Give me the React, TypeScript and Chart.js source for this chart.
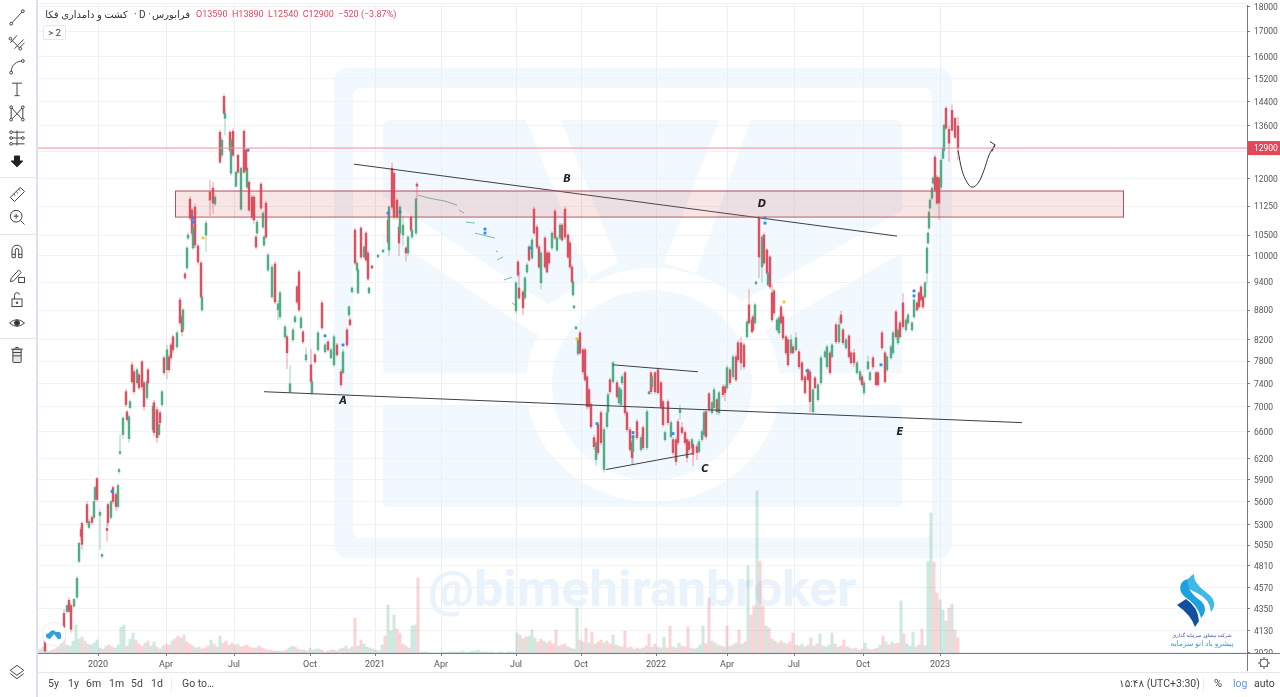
import React, { useEffect, useRef } from 'react';
import { Chart, registerables } from 'chart.js';

Chart.register(...registerables);

const pricePane = { min: 3916, max: 18085 };
const yTickValues = [18000, 17000, 16000, 15200, 14400, 13600, 12800, 12000, 11250, 10500, 10000, 9400, 8800, 8200, 7800, 7400, 7000, 6600, 6200, 5900, 5600, 5300, 5050, 4810, 4570, 4350, 4130, 3920];
const xTickBars = [61, 129, 197, 273, 338, 404, 479, 544, 619, 690, 757, 826, 903];
const xTickLabels = ['2020', 'Apr', 'Jul', 'Oct', '2021', 'Apr', 'Jul', 'Oct', '2022', 'Apr', 'Jul', 'Oct', '2023'];
const lastPrice = 12900;

// bar number on the time axis in groups of 10
const barNos = [
  8, 23, 27, 30, 32, 34, 37, 40, 42, 44,
  45, 50, 52, 55, 57, 58, 60, 63, 65, 70,
  71, 74, 76, 79, 81, 82, 83, 86, 89, 90,
  92, 93, 95, 97, 100, 102, 105, 107, 110, 111,
  116, 117, 120, 122, 123, 125, 127, 130, 132, 134,
  136, 140, 143, 145, 146, 148, 150, 151, 153, 155,
  156, 158, 161, 164, 165, 169, 173, 176, 178, 183,
  185, 187, 188, 193, 194, 196, 199, 201, 204, 207,
  210, 209, 212, 215, 217, 220, 219, 224, 226, 227,
  229, 231, 235, 238, 241, 243, 248, 250, 253, 256,
  258, 260, 262, 264, 266, 269, 274, 275, 278, 281,
  285, 288, 291, 294, 297, 300, 304, 306, 310, 312,
  313, 315, 318, 320, 321, 324, 327, 329, 331, 332,
  335, 341, 346, 351, 352, 355, 357, 360, 362, 363,
  366, 369, 371, 374, 375, 379, 380,
  479, 481, 482, 486, 488,
  490, 492, 495, 497, 500, 502, 504, 508, 510, 512,
  515, 518, 520, 523, 525, 528, 531, 533, 535, 536,
  537, 539, 541, 543, 546, 548, 550, 552, 554, 557,
  559, 561, 564, 567, 570, 571, 573, 576, 580, 582,
  584, 585, 588, 590, 593, 595, 596, 600, 604, 606,
  610, 612, 614, 615, 618, 621, 624, 626, 628, 631,
  634, 636, 639, 641, 643, 645, 648, 650, 652, 655,
  656, 660, 662, 665, 667, 669, 672, 675, 677, 680,
  682, 686, 688, 690, 693, 696, 699, 701, 704, 707,
  710, 712, 715, 716, 718, 719, 722, 725, 727, 730,
  731, 733, 735, 737, 740, 742, 744, 746, 749, 751,
  754, 756, 759, 762, 765, 768, 771, 773, 776, 778,
  781, 784, 788, 790, 793, 795, 799, 802, 804, 806,
  809, 812, 814, 817, 820, 823, 825, 827, 831, 833,
  836, 839, 841, 845, 848, 850, 854, 856, 859, 861,
  863, 866, 869, 871, 875, 877, 880, 882, 884, 886,
  888, 890, 891, 892, 893, 895, 896, 898, 900, 902,
  904, 906, 907, 909, 912, 915, 918, 921,
];

const opens = [
  4030, 4046, 4300, 4320, 4435, 4380, 4373, 4467, 4862, 5243,
  5318, 5560, 5268, 5393, 5393, 5627, 5912, 5420, 4920, 5255,
  5560, 5393, 5788, 5694, 5534, 6010, 6272, 6560, 7257, 6920,
  6497, 6990, 7733, 7607, 7412, 7553, 7788, 7412, 7155, 7643,
  6635, 7072, 6956, 6558, 6907, 7040, 7862, 7643, 7880, 8105,
  8262, 8068, 9014, 8660, 8399, 9583, 9720, 10430, 11435, 11143,
  10190, 11222, 10238, 9835, 8804, 10507, 11625, 11736, 11304, 13390,
  12685, 14575, 13840, 13390, 12157, 13422, 11790, 12685, 11170, 13422,
  11764, 12835, 11903, 11490, 11490, 10555, 10456, 11848, 10705, 10262,
  11330, 9674, 9078, 9812, 8804, 8660, 8262, 8262, 7257, 8203,
  8559, 9295, 9630, 8439, 8360, 7825, 7733, 7240, 7918, 8012,
  8950, 7974, 8165, 7862, 7733, 8105, 7607, 7590, 8399, 8700,
  8599, 9186, 10630, 9674, 9165, 10680, 9975, 10555, 10070, 9165,
  9766, 9975, 10094, 10884, 10141, 12302, 12156, 11409, 10705, 10555,
  10507, 10190, 10070, 10961, 10456, 10555, 11848,
  8783, 9858, 9272, 9186, 9056,
  9628, 10212, 9952, 11170, 10705, 10212, 9384, 10432, 10070, 10070,
  10190, 11117, 10141, 10432, 10756, 11170, 10507, 10310, 9742, 9120,
  8846, 8419, 7937, 8340, 8012, 8012, 7518, 7291, 7039, 6512,
  6183, 6714, 6907, 6039, 6682, 6923, 7465, 7430, 7412, 7072,
  7040, 7412, 7590, 6907, 6635, 6435, 6300, 6762, 6330, 6667,
  6360, 7223, 7590, 7343, 7590, 7643, 7412, 7090, 6481, 7090,
  6527, 6481, 6481, 6762, 6907, 6667, 6590, 6481, 6450, 6360,
  6405, 6375, 6300, 6481, 6558, 6923, 7223, 6907, 6990, 7122,
  6907, 7343, 7343, 7325, 7643, 7518, 7880, 8145, 8145, 8105,
  8262, 8910, 8599, 8660, 8539, 9362, 10935, 9742, 10507, 10141,
  9340, 9975, 9165, 9207, 8399, 8340, 8866, 8660, 8262, 8203,
  7955, 8068, 8012, 7974, 7770, 7518, 7643, 7607, 6923, 7500,
  7122, 7412, 7880, 7697, 7955, 7880, 8499, 8165, 8700, 8399,
  8050, 8281, 7955, 7955, 7590, 7465, 7518, 7240, 7661, 7465,
  7862, 7590, 7590, 8340, 7955, 7643, 7862, 7955, 8763, 8145,
  8539, 8950, 8399, 8539, 8399, 8660, 8950, 9165, 9295, 9078,
  9078, 9606, 10310, 10680, 11196, 11462, 11875, 12625, 12044, 12016,
  11764, 12595, 12835, 14170, 13486, 14103, 13840, 13590,
];

const closes = [
  3935, 4123, 4162, 4380, 4320, 4142, 4446, 4670, 5075, 5157,
  5061, 5330, 5343, 5330, 5600, 5788, 5627, 5458, 4943, 5230,
  5330, 5600, 5600, 5534, 5815, 6039, 6300, 6820, 7040, 6794,
  6842, 7090, 7430, 7257, 7643, 7325, 7343, 7006, 7430, 7412,
  7006, 6590, 6512, 6714, 6746, 7257, 7590, 8012, 7643, 7862,
  8012, 8340, 8539, 8360, 8804, 9494, 10190, 10507, 10935, 10555,
  10705, 10260, 9858, 9078, 9078, 10806, 11409, 11330, 11490, 12476,
  13141, 14005, 14005, 12835, 13141, 12685, 12186, 12186, 12302, 12186,
  12302, 12244, 11143, 10961, 10884, 10832, 10212, 11196, 11064, 10456,
  10456, 10022, 9742, 8970, 8930, 9165, 8459, 7955, 7395, 8399,
  8660, 8970, 8804, 8640, 8165, 7918, 7430, 7430, 7788, 8340,
  8439, 8105, 8012, 8012, 8262, 7918, 7378, 7974, 8105, 8866,
  8500, 9272, 9835, 9835, 9674, 9975, 10212, 9905, 9470, 9272,
  9720, 10022, 10141, 10334, 11222, 11222, 10961, 10961, 10310, 11222,
  10756, 10070, 10456, 10630, 10630, 11435, 11790,
  9384, 9560, 9056, 8846, 9494,
  9789, 9905, 10383, 10555, 10212, 9742, 10070, 9742, 9628, 9835,
  10555, 10432, 10432, 10756, 10383, 10456, 9975, 9742, 9405, 9405,
  8888, 8459, 8203, 7955, 7607, 7465, 7006, 7006, 6682, 6375,
  6435, 6285, 6435, 6635, 6907, 7206, 7257, 7770, 7172, 7325,
  7291, 7518, 6907, 6635, 6330, 6212, 6527, 6512, 6512, 6360,
  6923, 7257, 7257, 7518, 7257, 7240, 7006, 6714, 6590, 6746,
  6746, 6285, 6154, 6435, 6956, 6590, 6435, 6212, 6330, 6481,
  6256, 6285, 6450, 6605, 6907, 6527, 6956, 7072, 7291, 6923,
  7240, 7206, 7240, 7680, 7412, 7880, 7465, 7825, 7770, 7697,
  8559, 8539, 8360, 8399, 8910, 9405, 9975, 10456, 9835, 9606,
  9606, 9295, 8599, 8742, 8599, 8640, 8539, 8242, 7955, 7733,
  8203, 7955, 8242, 7697, 7465, 7240, 7465, 7090, 7291, 7325,
  7378, 7862, 7974, 8068, 7590, 8105, 8165, 8499, 8539, 8145,
  8203, 7880, 7770, 7770, 7770, 7607, 7378, 7412, 7788, 7590,
  7697, 7378, 7378, 8050, 7430, 7880, 8068, 8340, 8262, 8399,
  8262, 8459, 8599, 8700, 8539, 9014, 8804, 8866, 9014, 8866,
  9384, 10190, 10555, 11092, 11409, 11736, 12016, 11681, 11330, 11330,
  12536, 12895, 13614, 13518, 13050, 13454, 13230, 12900,
];

const highs = [
  4060, 4130, 4340, 4390, 4460, 4400, 4450, 4690, 5090, 5270,
  5340, 5600, 5370, 5420, 5620, 5810, 5930, 5490, 4950, 5340,
  5580, 5620, 5810, 5720, 5840, 6060, 6560, 6840, 7300, 6950,
  6870, 7120, 7780, 7640, 7680, 7590, 7820, 7440, 7460, 7680,
  7060, 7110, 7000, 6760, 6950, 7280, 7900, 8100, 7920, 8150,
  8300, 8380, 9070, 8700, 8840, 9620, 10230, 10560, 11500, 11200,
  10760, 11300, 10290, 9880, 9120, 10870, 11950, 11900, 11560, 13460,
  13200, 14640, 14200, 13450, 13200, 13500, 12230, 12730, 12340, 13480,
  12340, 12900, 11950, 11540, 11540, 10880, 10500, 11900, 11110, 10500,
  11380, 10070, 9790, 9860, 9000, 9210, 8500, 8300, 7720, 8440,
  8690, 9330, 9680, 8680, 8400, 8050, 8020, 7480, 7950, 8380,
  9000, 8140, 8200, 8050, 8310, 8140, 7650, 8020, 8440, 8900,
  8640, 9290, 10680, 9880, 9720, 10730, 10260, 10600, 10120, 9300,
  9780, 10030, 10150, 11000, 11270, 12450, 12210, 11460, 10760, 11280,
  10960, 10230, 10500, 11000, 10670, 11480, 11900,
  9420, 9900, 9640, 9230, 9530,
  9840, 10260, 10430, 11220, 10760, 10260, 10120, 10480, 10120, 10110,
  10600, 11170, 10480, 10800, 10800, 11230, 10550, 10350, 9790, 9440,
  8900, 8470, 8240, 8380, 8050, 8050, 7550, 7320, 7070, 6550,
  6470, 6750, 6940, 6670, 6940, 7240, 7500, 7800, 7450, 7360,
  7330, 7550, 7620, 6940, 6670, 6470, 6570, 6800, 6550, 6700,
  6960, 7270, 7620, 7550, 7620, 7680, 7440, 7120, 6620, 7120,
  6780, 6510, 6510, 6800, 7030, 6750, 6620, 6510, 6480, 6510,
  6430, 6420, 6480, 6640, 6940, 6960, 7250, 7100, 7330, 7150,
  7270, 7380, 7380, 7720, 7680, 7920, 7920, 8190, 8250, 8150,
  8600, 9250, 8640, 8700, 8950, 9420, 10990, 10500, 10560, 10190,
  9640, 10020, 9340, 9250, 8640, 8680, 8900, 8700, 8300, 8240,
  8300, 8100, 8340, 8010, 7800, 7550, 7670, 7640, 7320, 7530,
  7410, 7900, 8010, 8100, 7990, 8130, 8540, 8640, 8780, 8430,
  8240, 8310, 7990, 8020, 7800, 7640, 7560, 7450, 7900, 7620,
  7900, 7620, 7620, 8380, 7990, 7910, 8100, 8380, 8800, 8440,
  8580, 9150, 8640, 8740, 8570, 9060, 8990, 9200, 9340, 9110,
  9420, 10230, 10590, 11130, 11450, 11780, 12060, 12690, 12100, 12060,
  12590, 12940, 13660, 14230, 13600, 14290, 13890, 13890,
];

const lows = [
  3925, 4030, 4130, 4300, 4310, 4110, 4360, 4450, 4840, 5120,
  5000, 5300, 5250, 5300, 5370, 5600, 5600, 5000, 4900, 5100,
  5290, 5370, 5570, 5480, 5500, 5980, 6260, 6500, 7000, 6760,
  6440, 6960, 7390, 7220, 7380, 7290, 7300, 6950, 7120, 7380,
  6600, 6540, 6440, 6520, 6700, 7000, 7550, 7480, 7600, 7820,
  7960, 8030, 8490, 8280, 8360, 9460, 9680, 10400, 10880, 10500,
  10150, 10200, 9800, 9050, 8760, 10100, 11000, 11050, 11260, 12440,
  12620, 13960, 13300, 12790, 12100, 12640, 11750, 12140, 11130, 12140,
  11720, 12200, 11100, 10900, 10800, 10510, 10170, 11150, 10660, 10220,
  10410, 9630, 9040, 8930, 8600, 8620, 8230, 7660, 7240, 8160,
  8530, 8930, 8760, 8410, 8130, 7780, 7400, 7210, 7760, 7980,
  8400, 7950, 7980, 7840, 7700, 7890, 7340, 7560, 8060, 8670,
  8470, 9170, 9790, 9640, 9130, 9930, 9940, 9860, 9430, 9140,
  9700, 9960, 10080, 10280, 10000, 11170, 10900, 10900, 10000, 10500,
  10250, 9880, 10000, 10590, 10420, 10510, 11440,
  8740, 9520, 9020, 8700, 9020,
  9590, 9870, 9910, 10510, 10170, 9700, 9250, 9700, 9600, 9800,
  10150, 10390, 10100, 10390, 10340, 10410, 9930, 9700, 9370, 9090,
  8830, 8400, 7900, 7920, 7570, 7430, 6970, 6980, 6650, 6330,
  6100, 6250, 6400, 6000, 6650, 6890, 7220, 7390, 7140, 7040,
  7010, 7380, 6870, 6600, 6300, 6130, 6120, 6480, 6300, 6330,
  6330, 7210, 7220, 7310, 7220, 7210, 6970, 6680, 6450, 6710,
  6500, 6250, 6100, 6400, 6800, 6560, 6400, 6150, 6300, 6330,
  6090, 6180, 6270, 6450, 6520, 6490, 6920, 6880, 6960, 6880,
  6870, 7170, 7100, 7290, 7380, 7480, 7430, 7790, 7650, 7660,
  8230, 8500, 8330, 8360, 8500, 9350, 9500, 9400, 9790, 9570,
  9310, 9250, 8560, 8700, 8360, 8300, 8500, 8200, 7920, 7700,
  7920, 7930, 7980, 7660, 7430, 7210, 7440, 6920, 6890, 7300,
  7090, 7380, 7850, 7660, 7550, 7850, 8130, 8130, 8500, 8110,
  8020, 7850, 7740, 7700, 7560, 7430, 7340, 7200, 7630, 7440,
  7660, 7340, 7350, 8010, 7400, 7610, 7830, 7920, 8220, 8110,
  8230, 8420, 8360, 8500, 8370, 8620, 8770, 8830, 8980, 8830,
  9040, 9380, 10270, 10640, 11150, 11420, 11830, 11640, 11290, 10900,
  11700, 12560, 12790, 13470, 12500, 13420, 13190, 12540,
];

// the thinly traded stretch of 2021: closes only, null where the feed breaks
const thinTrades = [
  [381, 11545], [392, 11462], [408, 11382], [420, 11275], [420, null],
  [422, 11143], [427, 11064], [428, null],
  [429, 10832], [438, 10806], [438, null],
  [438, 10555], [458, 10432], [458, null],
  [459, 10118], [461, 10094], [461, null],
  [460, 9905], [466, 9975], [466, null],
  [467, 9449], [475, 9510], [475, null],
  [475, 8950], [478, 8910],
];

// one volume bar every third bar number, in millions of shares
const volumes = [
  4, 6, 3, 2, 3, 4, 6, 14, 18, 8,
  7, 12, 28, 14, 16, 12, 9, 8, 10, 13,
  5, 4, 7, 8, 6, 5, 8, 26, 28, 7,
  14, 20, 13, 9, 7, 10, 12, 7, 11, 6,
  4, 7, 9, 8, 12, 14, 17, 15, 18, 11,
  9, 7, 5, 6, 4, 5, 7, 13, 9, 6,
  17, 10, 12, 8, 10, 8, 9, 6, 7, 8,
  6, 5, 5, 7, 5, 4, 3, 3, 2, 2,
  2, 2, 3, 5, 7, 6, 4, 3, 3, 2,
  5, 3, 4, 4, 3, 1, 2, 3, 3, 2,
  4, 5, 7, 4, 6, 35, 7, 13, 9, 6,
  5, 4, 3, 2, 8, 17, 48, 22, 38, 24,
  20, 9, 7, 5, 27, 28, 75, 1, 1, 1,
  0, 0, 0, 0, 1, 1, 1, 1, 1, 1,
  1, 2, 1, 1, 2, 2, 3, 1, 1, 1,
  1, 1, 0, 1, 1, 0, 1, 1, 1, 20,
  18, 14, 16, 17, 23, 15, 11, 14, 12, 10,
  12, 9, 23, 7, 8, 9, 6, 5, 4, 45,
  13, 11, 25, 10, 21, 9, 11, 13, 10, 12,
  9, 18, 8, 7, 6, 22, 5, 6, 4, 5,
  4, 5, 7, 19, 6, 9, 6, 5, 16, 5,
  27, 6, 5, 10, 7, 6, 26, 5, 4, 5,
  8, 27, 9, 55, 12, 10, 8, 7, 6, 27,
  7, 8, 10, 23, 9, 11, 87, 38, 47, 162,
  92, 47, 27, 25, 14, 12, 10, 12, 10, 9,
  11, 20, 8, 7, 9, 6, 8, 15, 7, 9,
  19, 7, 6, 8, 20, 9, 6, 7, 13, 6,
  5, 4, 5, 3, 4, 10, 4, 3, 4, 5,
  8, 17, 11, 8, 11, 9, 10, 52, 19, 9,
  7, 21, 6, 8, 24, 7, 92, 140, 91, 60,
  53, 43, 32, 45, 49, 23, 15,
];

const volumeSides = [
  'rggrgrrgrg', 'ggggrgrggg', 'grgrrggggr', 'ggrrrgrggr', 'rgrrgrrgrr', 'rgrgrrrgrg', 'grrgrrgrrr', 'rrgrrrgrrg',
  'grrggrrgrg', 'grggrgrgrr', 'grgrgrgrgg', 'grgggrgggr', 'rrgrggrggg', 'gggggggggg', 'gggggggggg', 'gggggggggg',
  'rgrgggrrgr', 'rrrgrrgrgg', 'rgrgrgrrgr', 'rgrgrrgrgr', 'rgrrgrgrgr', 'rgrgrrrgrg', 'ggrrgrgrgr', 'grgrgrgrrg',
  'rrgrgrgrgr', 'rrgrgrgrgr', 'grgggrgrrg', 'rgrgrgrrgr', 'grgrgrrgrg', 'ggrgrgggrr', 'gggrgrr',
].join('');

// drawings on the chart, as [bar number, price]
const lineA = [[227, 7257], [985, 6746]];
const lineB = [[317, 12420], [860, 10480]];
const lineLow = [[569, 6039], [655, 6270]];
const lineHigh = [[576, 7733], [661, 7607]];
const curvePath = [[921, 12835], [925, 12244], [930, 11903], [935, 11764], [941, 11875], [947, 12244], [952, 12685], [958, 13000]];
const arrowHead = [[953, 13100], [958, 13000], [955, 12800]];
const zoneBars = [138, 1086];
const zonePrices = [11670, 10975];
const blueDots = [[156, 10935], [156, 10832], [211, 12835], [288, 8281], [306, 8105], [351, 11064], [363, 11092], [448, 10655], [448, 10555], [493, 10190], [560, 6730], [596, 6590], [596, 6527], [636, 6574], [728, 10935], [728, 10806], [770, 7625], [844, 7733], [877, 9207], [877, 9100], [75, 5735]];
const yellowDots = [[166, 10432], [540, 8222], [747, 8970]];
const waveLabels = ['A', 'B', 'C', 'D', 'E'];
const waveBars = [306, 530, 668, 725, 863];
const wavePrices = [7090, 11990, 6035, 11290, 6590];

const RED = '#de4f60';
const GREEN = '#50ad86';
const RED_WICK = 'rgba(222,74,92,0.33)';
const GREEN_WICK = 'rgba(75,171,130,0.33)';
const pts = (list: any[][]) => list.map(([x, y]) => ({ x, y }));

const drawingsPlugin = {
  id: 'drawings',
  afterDatasetsDraw(chart: any) {
    const { ctx, scales } = chart;
    const { x, y } = scales;
    ctx.save();
    const left = x.getPixelForValue(zoneBars[0]);
    const right = x.getPixelForValue(zoneBars[1]);
    const top = y.getPixelForValue(zonePrices[0]);
    const bottom = y.getPixelForValue(zonePrices[1]);
    ctx.fillStyle = 'rgba(205,80,80,0.15)';
    ctx.fillRect(left, top, right - left, bottom - top);
    ctx.strokeStyle = '#bd4f5e';
    ctx.lineWidth = 1;
    ctx.strokeRect(left + 0.5, top + 0.5, right - left, bottom - top);

    ctx.font = 'italic bold 10px "DejaVu Sans"';
    ctx.fillStyle = '#222';
    ctx.textAlign = 'center';
    ctx.textBaseline = 'middle';
    waveLabels.forEach((label, i) => {
      ctx.fillText(label, x.getPixelForValue(waveBars[i]), y.getPixelForValue(wavePrices[i]));
    });
    ctx.restore();
  },
  afterDraw(chart: any) {
    const { ctx, scales } = chart;
    const py = scales.y.getPixelForValue(lastPrice);
    ctx.save();
    ctx.fillStyle = '#e5475a';
    ctx.fillRect(1248, py - 7, 32, 14);
    ctx.fillStyle = '#fff';
    ctx.font = '8.5px Roboto';
    ctx.textBaseline = 'middle';
    ctx.fillText(String(lastPrice), 1254, py + 0.5);
    ctx.restore();
  },
};

function lineSet(list: any[][], color: string, width: number, tension = 0) {
  return {
    type: 'line' as const,
    data: pts(list),
    borderColor: color,
    borderWidth: width,
    pointRadius: 0,
    tension,
    order: 2,
  };
}

function dotSet(list: number[][], color: string) {
  return {
    type: 'line' as const,
    data: pts(list),
    showLine: false,
    pointRadius: 2,
    pointStyle: 'rect',
    pointBackgroundColor: color,
    pointBorderWidth: 0,
    order: 1,
  };
}

function Icon({ y, children }: { y: number; children: React.ReactNode }) {
  return (
    <svg width="20" height="20" viewBox="0 0 24 24" fill="none" stroke="#454545" strokeWidth="1.2"
      style={{ position: 'absolute', left: 7, top: y - 10 }}>
      {children}
    </svg>
  );
}

function Label({ x, y, size = 11, color = '#444', children, weight }: any) {
  return (
    <div style={{ position: 'absolute', left: x, top: y, fontSize: size, color, fontWeight: weight, lineHeight: '14px', whiteSpace: 'nowrap' }}>
      {children}
    </div>
  );
}

function Watermark() {
  const light = '#f1f8fe';
  return (
    <svg width="1280" height="697" style={{ position: 'absolute', left: 0, top: 0 }}>
      <rect x="334" y="68" width="618" height="490" rx="14" fill={light} />
      <rect x="353" y="88" width="579" height="450" rx="8" fill="#fff" />
      <rect x="383" y="120" width="519" height="387" rx="6" fill={light} />
      <g fill="#fff">
        <polygon points="526,120 561,120 618,263 589,277" />
        <polygon points="719,120 751,120 696,273 664,263" />
        <polygon points="383,196 549,305 589,277 600,340 534,333 383,233" />
        <polygon points="902,211 735,305 696,273 690,340 755,337 902,253" />
        <rect x="383" y="373" width="519" height="32" />
        <ellipse cx="653" cy="385" rx="127" ry="117" />
      </g>
      <ellipse cx="652" cy="385" rx="100" ry="95" fill={light} />
      <text x="428" y="606" fontFamily="Roboto" fontWeight="700" fontSize="50" fill="#e8f3fc" textLength="428" lengthAdjust="spacingAndGlyphs">@bimehiranbroker</text>
    </svg>
  );
}

function Chrome() {
  return (
    <div style={{ position: 'absolute', left: 0, top: 0, width: 1280, height: 697, fontFamily: 'Roboto, "DejaVu Sans", sans-serif', pointerEvents: 'none' }}>
      <div style={{ position: 'absolute', left: 0, top: 0, width: 36, height: 697, background: '#fff', borderRight: '2px solid #dde1ee' }} />
      <div style={{ position: 'absolute', left: 38, top: 3, width: 1209, height: 1, background: '#eef1f6' }} />
      {[177, 234, 338].map((y) => (
        <div key={y} style={{ position: 'absolute', left: 0, top: y, width: 36, height: 1, background: '#e4e6ee' }} />
      ))}
      <Icon y={17}><path d="M5 20 L19 5" /><circle cx="5" cy="20" r="1.7" fill="#fff" /><circle cx="19" cy="5" r="1.7" fill="#fff" /></Icon>
      <Icon y={42}><path d="M4 13 L12 4 M4 8 L16 20 M9 20 L20 9 M14 20 L21 13" /><circle cx="4" cy="8" r="1.6" fill="#fff" /><circle cx="16" cy="20" r="1.6" fill="#fff" /></Icon>
      <Icon y={66}><path d="M5 20 C5 10 12 6 19 6" /><circle cx="5" cy="20" r="1.7" fill="#fff" /><circle cx="19" cy="6" r="1.7" fill="#fff" /></Icon>
      <Icon y={89}><path d="M6 5 H18 M12 5 V20 M9 20 H15" /></Icon>
      <Icon y={113}><path d="M5 5 L12 13 L19 5 M5 20 L12 13 L19 20 M5 5 V20 M19 5 V20" /><circle cx="5" cy="5" r="1.6" fill="#fff" /><circle cx="19" cy="5" r="1.6" fill="#fff" /><circle cx="5" cy="20" r="1.6" fill="#fff" /><circle cx="19" cy="20" r="1.6" fill="#fff" /></Icon>
      <Icon y={138}><path d="M3 5 H21 M3 12 H21 M3 19 H21 M12 3 V21" /><circle cx="5" cy="5" r="1.6" fill="#fff" /><circle cx="5" cy="12" r="1.6" fill="#fff" /><circle cx="19" cy="12" r="1.6" fill="#fff" /><circle cx="5" cy="19" r="1.6" fill="#fff" /></Icon>
      <Icon y={161}><path d="M9 6 H15 V12 H19 L12 19 L5 12 H9 Z" fill="#222" stroke="#222" /></Icon>
      <Icon y={194}><path d="M4 16 L16 4 L21 9 L9 21 Z M8 12 L10 14 M11 9 L13 11 M14 6 L16 8" /></Icon>
      <Icon y={217}><circle cx="11" cy="11" r="7" /><path d="M16 16 L21 21 M11 8 V14 M8 11 H14" /></Icon>
      <Icon y={251}><path d="M6 20 V11 A6 6 0 0 1 18 11 V20 H14 V11 A2 2 0 0 0 10 11 V20 Z M6 16 H10 M14 16 H18" /></Icon>
      <Icon y={275}><path d="M5 16 L14 6 L17 9 L8 19 L4 20 Z" /><rect x="14" y="15" width="7" height="6" /></Icon>
      <Icon y={299}><rect x="6" y="12" width="12" height="9" /><path d="M9 12 V8 A3 3 0 0 1 15 7" /><circle cx="12" cy="16.5" r="1" fill="#454545" /></Icon>
      <Icon y={323}><path d="M3 12 Q12 4 21 12 Q12 20 3 12 Z" /><circle cx="12" cy="12" r="3" fill="#333" /></Icon>
      <Icon y={355}><rect x="7" y="5" width="10" height="16" rx="1" fill="#e8e8e8" /><path d="M5 5 H19 M10 3 H14 M7 9 H17 M7 13 H17" /></Icon>
      <Icon y={672}><path d="M12 4 L20 10 L12 16 L4 10 Z M4 14 L12 20 L20 14" /></Icon>

      <div dir="rtl" style={{ position: 'absolute', left: 44, top: 8, width: 85, fontSize: 10, color: '#333', lineHeight: '14px', whiteSpace: 'nowrap', textAlign: 'center' }}>کشت و دامداری فکا</div>
      <Label x={134} y={8} size={10} color="#333">· D ·</Label>
      <div dir="rtl" style={{ position: 'absolute', left: 152, top: 8, width: 38, fontSize: 10, color: '#333', lineHeight: '14px', whiteSpace: 'nowrap', textAlign: 'center' }}>فرابورس</div>
      <Label x={196} y={7} size={9} color="#e5475a">
        <span>O13590 &nbsp;H13890 &nbsp;L12540 &nbsp;C12900 &nbsp;−520 (−3.87%)</span>
      </Label>
      <div style={{ position: 'absolute', left: 43, top: 25, width: 21, height: 13, border: '1px solid #e6e8ee', borderRadius: 2, background: '#fff', fontSize: 9.5, color: '#444', lineHeight: '13px', textAlign: 'center' }}>&gt; 2</div>

      <div style={{ position: 'absolute', left: 42, top: 622, width: 22, height: 22, borderRadius: 11, background: '#fff', border: '1px solid #eceff4' }} />
      <svg width="20" height="14" style={{ position: 'absolute', left: 44, top: 627 }}>
        <path d="M3 11 Q0 7 5 6 Q8 1 12 5 Q18 4 17 10 Q18 12 14 12 L10 7 L6 12 Z" fill="#2f9fe0" />
      </svg>

      <div style={{ position: 'absolute', left: 1248, top: 654, width: 32, height: 16, background: '#fff' }} />
      <div style={{ position: 'absolute', left: 1247, top: 653, width: 33, height: 1, background: '#787b86' }} />
      <div style={{ position: 'absolute', left: 1247, top: 654, width: 1, height: 17, background: '#787b86' }} />
      <div style={{ position: 'absolute', left: 38, top: 672, width: 1242, height: 1, background: '#e6e8ee' }} />
      <svg width="14" height="14" style={{ position: 'absolute', left: 1257, top: 656 }} fill="none" stroke="#555">
        <circle cx="7" cy="7" r="4" />
        <path d="M7 1 V3 M7 11 V13 M1 7 H3 M11 7 H13 M3 3 L4 4 M10 10 L11 11 M3 11 L4 10 M10 4 L11 3" />
      </svg>

      {[['5y', 48], ['1y', 68], ['6m', 86], ['1m', 109], ['5d', 131], ['1d', 151], ['Go to…', 182]].map(([t, x]) => (
        <Label key={t} x={x} y={677} size={10.5} color="#444">{t}</Label>
      ))}
      <div style={{ position: 'absolute', left: 171, top: 677, width: 1, height: 14, background: '#eceef3' }} />
      <Label x={1119} y={677} size={10.5} color="#444">۱۵:۴۸ (UTC+3:30)</Label>
      <div style={{ position: 'absolute', left: 1203, top: 677, width: 1, height: 14, background: '#eceef3' }} />
      <Label x={1214} y={677} size={11} color="#444">%</Label>
      <Label x={1233} y={677} size={10.5} color="#5b9bea">log</Label>
      <Label x={1254} y={677} size={10.5} color="#444">auto</Label>

      <svg width="60" height="60" viewBox="0 0 60 60" style={{ position: 'absolute', left: 1173, top: 571 }}>
        <path d="M13 16 Q13 7 21 3 Q20 12 34 22 Q46 31 38 41 Q37 28 24 22 Q17 19 13 16 Z" fill="#3fb8ea" />
        <path d="M8 13 Q5 20 12 26 Q25 34 28 47 Q36 38 28 30 Q13 20 15 8 Q10 9 8 13 Z" fill="#1fa0e0" />
        <path d="M4 34 L13 28 Q25 36 26 50 L22 56 Q18 44 4 34 Z" fill="#12509e" />
      </svg>
      <div dir="rtl" style={{ position: 'absolute', left: 1165, top: 630, width: 74, fontSize: 5, color: '#3a4b9c', textAlign: 'center', lineHeight: '10px', whiteSpace: 'nowrap' }}>شرکت مشاور سرمایه گذاری</div>
      <div dir="rtl" style={{ position: 'absolute', left: 1165, top: 638, width: 74, fontSize: 7.5, color: '#29a6df', textAlign: 'center', lineHeight: '12px', whiteSpace: 'nowrap' }}>پیشرو باد انو سرمایه</div>
    </div>
  );
}

export default function App() {
  const canvasRef = useRef<HTMLCanvasElement | null>(null);

  useEffect(() => {
    if (!canvasRef.current) return;
    const up = (i: number) => closes[i] >= opens[i];
    const chart = new Chart(canvasRef.current, {
      type: 'bar',
      data: {
        datasets: [
          {
            data: volumes.map((v, i) => ({ x: 3 + i * 3, y: v })),
            yAxisID: 'v',
            grouped: false,
            barThickness: 2.4,
            backgroundColor: volumes.map((_, i) => (volumeSides[i] === 'g' ? 'rgba(75,171,130,0.26)' : 'rgba(240,100,110,0.28)')),
            order: 6,
          },
          {
            data: barNos.map((b, i) => ({ x: b, y: [lows[i], highs[i]] })),
            grouped: false,
            barThickness: 1,
            backgroundColor: barNos.map((_, i) => (up(i) ? GREEN_WICK : RED_WICK)),
            order: 5,
          },
          {
            data: barNos.map((b, i) => ({ x: b, y: [opens[i], closes[i]] })),
            grouped: false,
            barThickness: 1.8,
            backgroundColor: barNos.map((_, i) => (up(i) ? GREEN : RED)),
            order: 4,
          },
          lineSet([[0, lastPrice], [1210, lastPrice]], '#ec8f9a', 1),
          lineSet(thinTrades, 'rgba(75,171,130,0.75)', 1),
          lineSet(lineA, '#3d3f45', 1),
          lineSet(lineB, '#3d3f45', 1),
          lineSet(lineLow, '#3d3f45', 1),
          lineSet(lineHigh, '#3d3f45', 1),
          lineSet(curvePath, '#33353a', 1, 0.4),
          lineSet(arrowHead, '#33353a', 1),
          dotSet(blueDots, '#2a8fe8'),
          dotSet(yellowDots, '#f4c820'),
        ] as any,
      },
      options: {
        animation: false,
        responsive: false,
        layout: { padding: { left: 37, top: 5, right: 0, bottom: 20 } },
        plugins: { legend: { display: false }, tooltip: { enabled: false } },
        scales: {
          x: {
            type: 'linear',
            offset: false,
            min: 0,
            max: 1210,
            afterBuildTicks: (scale: any) => {
              scale.ticks = xTickBars.map((value) => ({ value }));
            },
            afterFit: (scale: any) => {
              scale.height = 24;
              scale.paddingLeft = 0;
              scale.paddingRight = 0;
            },
            grid: { color: '#eaeef5', tickColor: '#787b86', tickLength: 3, offset: false },
            border: { color: '#787b86' },
            ticks: {
              autoSkip: false,
              maxRotation: 0,
              padding: 3,
              color: '#555',
              font: { family: 'Roboto', size: 9 },
              callback: (v: any) => xTickLabels[xTickBars.indexOf(v)],
            },
          },
          y: {
            type: 'logarithmic',
            position: 'right',
            min: pricePane.min,
            max: pricePane.max,
            afterBuildTicks: (scale: any) => {
              scale.ticks = yTickValues.map((value) => ({ value }));
            },
            afterFit: (scale: any) => {
              scale.width = 33;
              scale.paddingTop = 0;
              scale.paddingBottom = 0;
            },
            grid: { color: '#f0f2f7', tickColor: '#787b86', tickLength: 3 },
            border: { color: '#787b86' },
            ticks: {
              autoSkip: false,
              padding: 4,
              labelOffset: 1,
              color: '#555',
              font: { family: 'Roboto', size: 8.5 },
              callback: (v: any) => String(v),
            },
          },
          v: { type: 'linear', display: false, min: 0, max: 648 },
        },
      } as any,
      plugins: [drawingsPlugin],
    });
    return () => chart.destroy();
  }, []);

  return (
    <div style={{ position: 'absolute', left: 0, top: 0, width: 1280, height: 697, background: '#fff', overflow: 'hidden' }}>
      <Watermark />
      <canvas ref={canvasRef} width={1280} height={697} style={{ position: 'absolute', left: 0, top: 0 }} />
      <Chrome />
    </div>
  );
}
